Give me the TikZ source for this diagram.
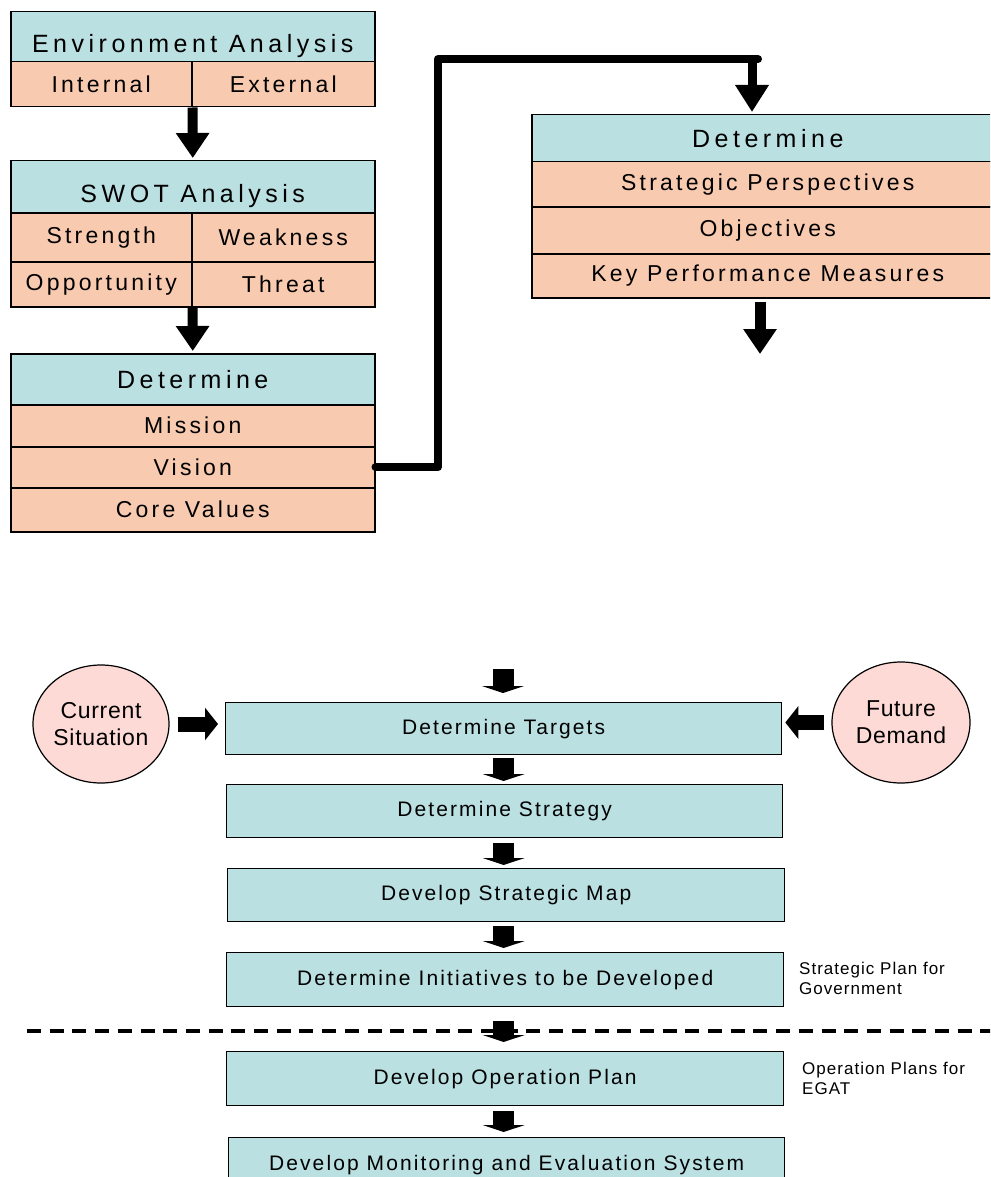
\documentclass[tikz,border=0pt]{standalone}
\usepackage{fontspec}
\setmainfont{Liberation Sans}
\newfontfamily\hdrfont[LetterSpace=18]{Liberation Sans}
\newfontfamily\rowfont[LetterSpace=14]{Liberation Sans}
\newfontfamily\boxfont[LetterSpace=10]{Liberation Sans}
\newfontfamily\circfont[LetterSpace=3]{Liberation Sans}
\newfontfamily\sidefont[LetterSpace=6]{Liberation Sans}
\usetikzlibrary{arrows.meta,shapes.geometric}
\definecolor{tealc}{RGB}{186,224,226}
\definecolor{salmonc}{RGB}{248,202,176}
\definecolor{pinkc}{RGB}{253,218,214}
\tikzset{
  cellbox/.style={draw, line width=1.5pt, inner sep=0pt, anchor=north west, align=center},
  hdr/.style={cellbox, fill=tealc, font=\hdrfont\fontsize{25}{30}\selectfont},
  lowhdr/.style={hdr, text height=#1, text depth=0pt},
  rowcell/.style={cellbox, fill=salmonc, font=\rowfont\fontsize{23}{28}\selectfont},
  stepbox/.style={cellbox, fill=tealc, line width=1.3pt, font=\boxfont\fontsize{21}{25}\selectfont},
  circ/.style={ellipse, draw, line width=1.2pt, fill=pinkc, inner sep=0pt, align=center, font=\circfont\fontsize{23}{27}\selectfont},
  side/.style={anchor=north west, inner sep=0pt, align=left, font=\sidefont\fontsize{17}{20}\selectfont},
  bigarrow/.style={line width=10pt, -{Triangle[width=32pt,length=25pt]}},
  conn/.style={line width=8pt, line cap=round, line join=round},
  blk/.style={line width=21pt, -{Triangle[width=42pt,length=7pt]}},
  hblk/.style={line width=15pt, -{Triangle[width=32pt,length=13pt]}},
  dashline/.style={line width=4.5pt, dash pattern=on 14pt off 8.7pt}
}
\begin{document}
\begin{tikzpicture}[x=1pt,y=-1pt]
\useasboundingbox (0,0) rectangle (990,1177);
\clip (0,0) rectangle (990,1177);
% ---- Environment Analysis
\node[lowhdr=31pt, minimum width=364pt, minimum height=50pt] (env) at (10,11) {Environment Analysis};
\node[rowcell, minimum width=181pt, minimum height=45pt] (int) at (10,61) {Internal};
\node[rowcell, minimum width=183pt, minimum height=45pt] (ext) at (191,61) {External};
% ---- SWOT
\node[lowhdr=32pt, minimum width=364pt, minimum height=52pt] (swot) at (10,160) {SWOT Analysis};
\node[rowcell, minimum width=181pt, minimum height=49pt] (str) at (10,212) {Strength};
\node[rowcell, minimum width=183pt, minimum height=49pt] (weak) at (191,212) {Weakness};
\node[rowcell, minimum width=181pt, minimum height=45pt] (opp) at (10,261) {Opportunity};
\node[rowcell, minimum width=183pt, minimum height=45pt] (thr) at (191,261) {Threat};
% ---- Determine (left)
\node[hdr, minimum width=364pt, minimum height=51pt] (detl) at (10,353) {Determine};
\node[rowcell, minimum width=364pt, minimum height=42pt] (mis) at (10,404) {Mission};
\node[rowcell, minimum width=364pt, minimum height=41pt] (vis) at (10,446) {Vision};
\node[rowcell, minimum width=364pt, minimum height=44pt] (core) at (10,487) {Core Values};
% ---- Determine (right)
\node[hdr, minimum width=472pt, minimum height=47pt] (detr) at (531,114) {Determine};
\node[rowcell, minimum width=472pt, minimum height=45pt] (sp) at (531,161) {Strategic Perspectives};
\node[rowcell, minimum width=472pt, minimum height=47pt] (obj) at (531,206) {Objectives};
\node[rowcell, minimum width=472pt, minimum height=44pt] (kpm) at (531,253) {Key Performance Measures};
% ---- top arrows
\draw[bigarrow, shorten >=2pt] (int.south east) -- (swot.north);
\draw[bigarrow, shorten >=2pt] (opp.south east) -- (detl.north);
\coordinate (c2) at (438,59);
\coordinate (c3) at (752,59);
\coordinate (c4) at (758,59);
\draw[conn] (vis.east) -- (vis.east -| c2) -- (c2) -- (c4);
\draw[line width=9pt, -{Triangle[width=32pt,length=27pt]}, shorten >=2pt] (c3) -- (c3 |- detr.north);
\coordinate (e1) at (760,354);
\draw[line width=11pt, -{Triangle[width=32pt,length=25pt]}, shorten <=3pt] (kpm.south -| e1) -- (e1);
% ---- bottom section
\node[circ, minimum width=136pt, minimum height=118pt] (cur) at (101,724) {Current\\Situation};
\node[circ, minimum width=138pt, minimum height=121pt] (fut) at (901,722.5) {Future\\Demand};
\node[stepbox, minimum width=556pt, minimum height=52pt] (tgt) at (225,702) {Determine Targets};
\node[stepbox, minimum width=556pt, minimum height=53pt] (stg) at (226,784) {Determine Strategy};
\node[stepbox, minimum width=557pt, minimum height=53pt] (map) at (227,868) {Develop Strategic Map};
\node[stepbox, minimum width=557pt, minimum height=54pt] (ini) at (226,952) {Determine Initiatives to be Developed};
\node[stepbox, minimum width=557pt, minimum height=54pt] (opl) at (226,1051) {Develop Operation Plan};
\node[stepbox, minimum width=556pt, minimum height=54pt] (mon) at (228,1137) {Develop Monitoring and Evaluation System};
\node[side] (lab1) at (799,962) {Strategic Plan for\\Government};
\node[side] (lab2) at (802,1062) {Operation Plans for\\EGAT};
\coordinate (dl) at (27,1031);
\coordinate (dr) at (1000,1031);
\draw[dashline] (dl) -- (dr);
\coordinate (t0) at (503,669);
\draw[blk, shorten >=9pt] (t0) -- (t0 |- tgt.north);
\draw[blk, shorten <=3pt, shorten >=3pt] (tgt.south) -- (tgt.south |- stg.north);
\draw[blk, shorten <=5pt, shorten >=3pt] (tgt.south |- stg.south) -- (tgt.south |- map.north);
\draw[blk, shorten <=4pt, shorten >=4pt] (tgt.south |- map.south) -- (tgt.south |- ini.north);
\draw[blk, shorten <=14pt, shorten >=9pt] (tgt.south |- ini.south) -- (tgt.south |- opl.north);
\draw[blk, shorten <=5pt, shorten >=5pt] (tgt.south |- opl.south) -- (tgt.south |- mon.north);
\draw[hblk, shorten <=8pt, shorten >=7pt] (cur.east) -- (cur.east -| tgt.west);
\draw[hblk, shorten <=7pt, shorten >=3pt] (fut.west) -- (fut.west -| tgt.east);
\end{tikzpicture}
\end{document}
